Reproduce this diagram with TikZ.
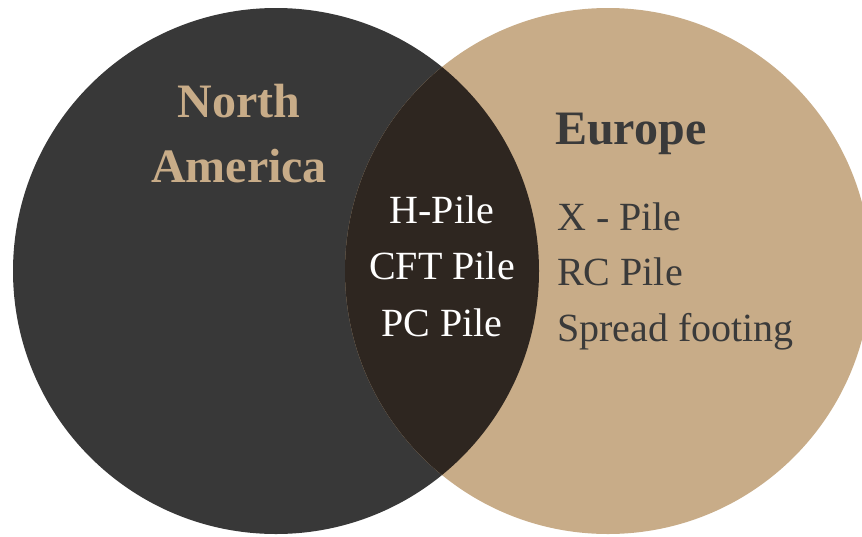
\documentclass[tikz,border=0pt]{standalone}
\usepackage{fontspec}
\setmainfont{Liberation Serif}

\definecolor{nadark}{HTML}{383838}
\definecolor{eutan}{HTML}{C8AC88}
\definecolor{overlap}{HTML}{2E2620}
\definecolor{eutext}{HTML}{3A3A3A}

\tikzset{
  head/.style={font=\fontsize{48}{48}\selectfont\bfseries, anchor=base, inner sep=0pt},
  item/.style={font=\fontsize{40}{40}\selectfont, anchor=base, inner sep=0pt},
}

\begin{document}
\begin{tikzpicture}[x=1pt, y=-1pt]
    \useasboundingbox (0,0) rectangle (862,536);
    \clip (0,0) rectangle (862,536);
    \coordinate (nacenter) at (276,271);
    \coordinate (eucenter) at (608,271);

    % the two sets and their overlap
    \fill[nadark] (nacenter) circle[radius=263pt];
    \fill[eutan] (eucenter) circle[radius=263pt];
    \begin{scope}
        \clip (nacenter) circle[radius=263pt];
        \fill[overlap] (eucenter) circle[radius=263pt];
    \end{scope}

    % headings
    \node[head, text=eutan] (north) at (239,117) {North};
    \node[head, text=eutan] (america) at (239,182) {America};
    \node[head, text=eutext, anchor=base west] (europe) at (555,144) {Europe};

    % shared foundations
    \foreach \name/\txt [count=\i from 0] in {hpile/H-Pile, cftpile/CFT Pile, pcpile/PC Pile}
        \node[item, text=white] (\name) at (442,{223.5+56.3*\i}) {\txt};

    % europe only
    \foreach \name/\txt [count=\i from 0] in {xpile/X - Pile, rcpile/RC Pile, spread/Spread footing}
        \node[item, text=eutext, anchor=base west] (\name) at (557,{230+55.9*\i}) {\txt};
\end{tikzpicture}
\end{document}
